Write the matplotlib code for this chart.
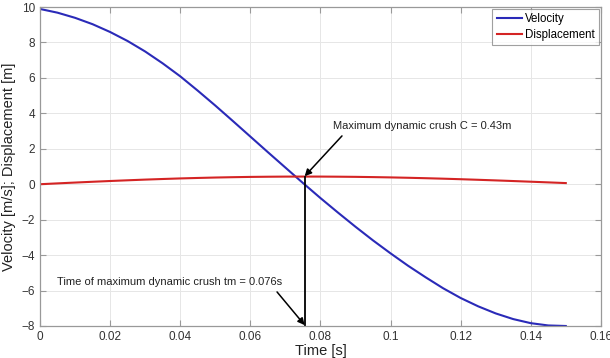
import matplotlib
matplotlib.use("Agg")
import matplotlib.pyplot as plt

plt.rcParams['font.family'] = ['Liberation Sans', 'DejaVu Sans']

time_s = [0.0, 0.005, 0.01, 0.015, 0.02, 0.025, 0.03, 0.035, 0.04, 0.045, 0.05,
          0.055, 0.06, 0.065, 0.07, 0.075, 0.08, 0.085, 0.09, 0.095, 0.10,
          0.105, 0.11, 0.115, 0.12, 0.125, 0.13, 0.135, 0.14, 0.145, 0.15]
velocity = [9.89, 9.68, 9.39, 9.03, 8.59, 8.08, 7.49, 6.82, 6.09, 5.28, 4.44,
            3.57, 2.69, 1.81, 0.94, 0.07, -0.78, -1.60, -2.40, -3.17, -3.90,
            -4.60, -5.25, -5.87, -6.42, -6.89, -7.29, -7.61, -7.84, -7.97, -8.00]
displacement = [0.0, 0.048, 0.094, 0.139, 0.182, 0.222, 0.261, 0.295, 0.327, 0.354, 0.378,
                0.397, 0.413, 0.423, 0.430, 0.432, 0.431, 0.425, 0.416, 0.402, 0.385,
                0.364, 0.340, 0.313, 0.283, 0.250, 0.216, 0.180, 0.142, 0.104, 0.065]

x_ticks = [0, 0.02, 0.04, 0.06, 0.08, 0.10, 0.12, 0.14, 0.16]
x_tick_labels = ["0", "0.02", "0.04", "0.06", "0.08", "0.1", "0.12", "0.14", "0.16"]
y_ticks = [-8, -6, -4, -2, 0, 2, 4, 6, 8, 10]

t_max = 0.0755
crush_max = 0.43

fig = plt.figure(figsize=(6.1, 3.58), dpi=100)
ax = fig.add_axes([0.0656, 0.0894, 0.9194, 0.8910])

ax.plot(time_s, velocity, color='#2a2ab8', lw=1.5, label='Velocity')
ax.plot(time_s, displacement, color='#d42424', lw=1.5, label='Displacement')

ax.plot([t_max, t_max], [-8, crush_max], color='black', lw=1.3)

ax.annotate('Maximum dynamic crush C = 0.43m', xy=(t_max, crush_max + 0.02),
            xytext=(0.0836, 3.28), fontsize=8, color='#222222', va='center', ha='left',
            arrowprops=dict(arrowstyle='-|>', color='black', lw=1.1, mutation_scale=10,
                            shrinkA=2, shrinkB=0, relpos=(0.075, 0.0)))
ax.annotate('Time of maximum dynamic crush tm = 0.076s', xy=(t_max, -7.95),
            xytext=(0.0048, -5.52), fontsize=8, color='#222222', va='center', ha='left',
            arrowprops=dict(arrowstyle='-|>', color='black', lw=1.1, mutation_scale=10,
                            shrinkA=2, shrinkB=0, relpos=(0.96, 0.0)))

ax.set_xlim(0, 0.16)
ax.set_ylim(-8, 10)
ax.set_xticks(x_ticks)
ax.set_xticklabels(x_tick_labels)
ax.set_yticks(y_ticks)
ax.tick_params(direction='in', length=4, width=0.8, colors='#999999', labelcolor='#333333',
               labelsize=8.5, top=True, right=True)
ax.grid(True, color='#e6e6e6', lw=0.7, ls='-')
for s in ax.spines.values():
    s.set_color('#999999')
    s.set_linewidth(0.9)

ax.set_xlabel('Time [s]', fontsize=10.5, color='#222222', labelpad=1)
ax.set_ylabel('Velocity [m/s]; Displacement [m]', fontsize=10.5, color='#222222', labelpad=4)

leg = ax.legend(loc='upper right', fontsize=8.3, frameon=True, fancybox=False,
                borderaxespad=0.15, handlelength=2.2, handletextpad=0.3,
                borderpad=0.35, labelspacing=0.4)
leg.get_frame().set_edgecolor('#888888')
leg.get_frame().set_linewidth(0.8)

fig.savefig('out.png', dpi=100)
